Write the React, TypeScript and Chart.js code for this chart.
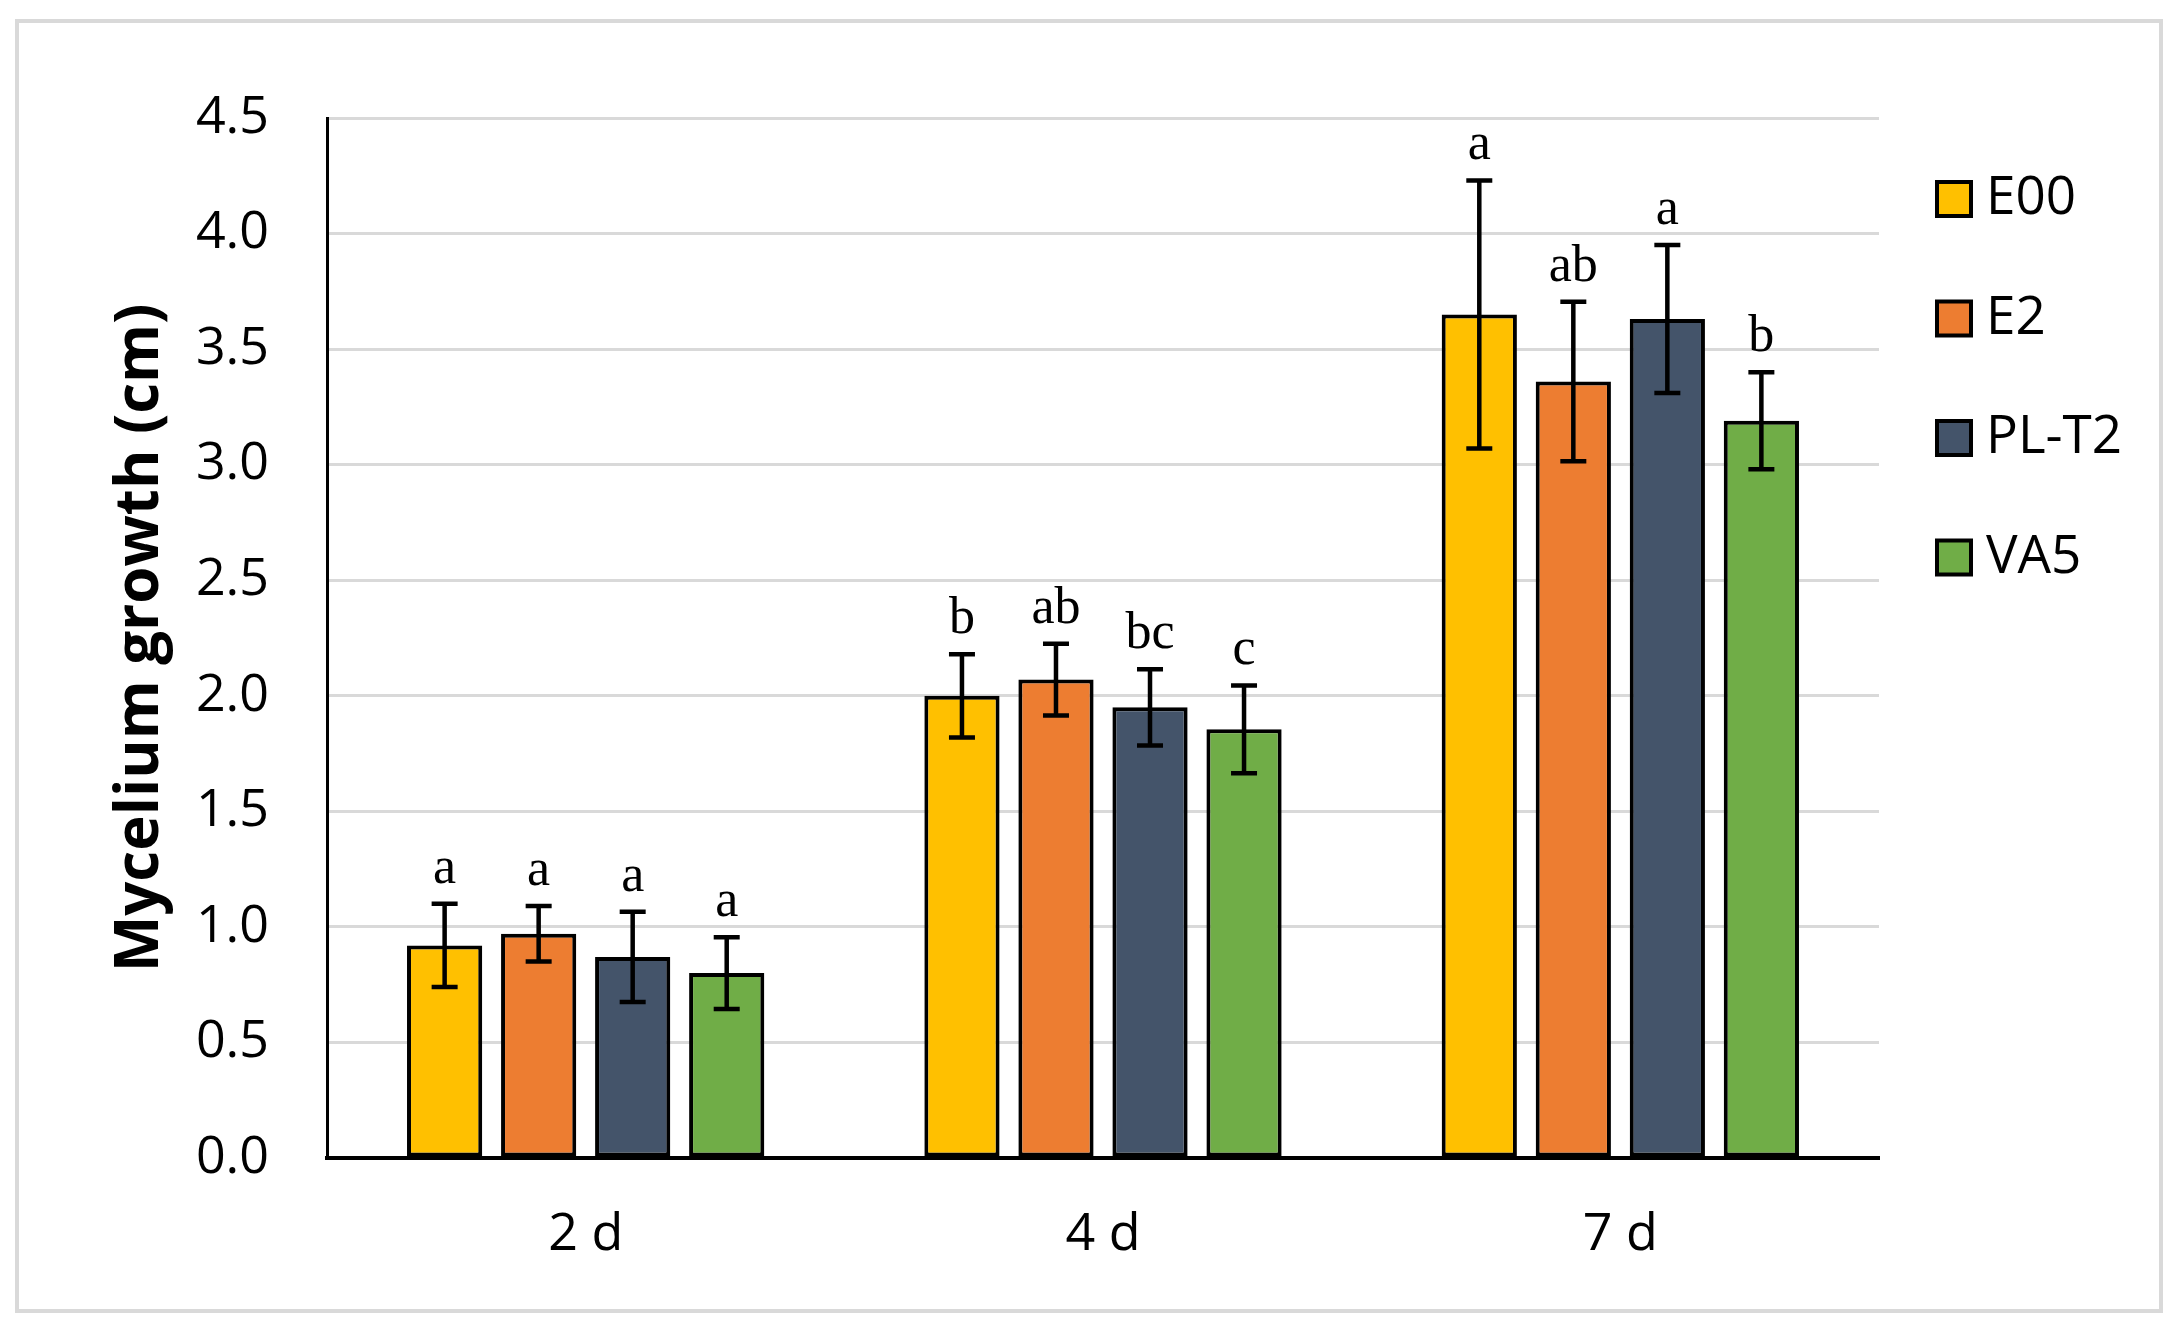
import React, { useEffect, useRef } from 'react';
import { Chart, registerables } from 'chart.js';

Chart.register(...registerables);

const categories = ['2 d', '4 d', '7 d'];
const seriesNames = ['E00', 'E2', 'PL-T2', 'VA5'];

const e00Values = [0.92, 2.0, 3.65];
const e2Values = [0.97, 2.07, 3.36];
const plt2Values = [0.87, 1.95, 3.63];
const va5Values = [0.8, 1.855, 3.19];

const e00Err = [0.18, 0.18, 0.58];
const e2Err = [0.12, 0.155, 0.345];
const plt2Err = [0.195, 0.165, 0.32];
const va5Err = [0.155, 0.19, 0.21];

const e00Letters = ['a', 'b', 'a'];
const e2Letters = ['a', 'ab', 'ab'];
const plt2Letters = ['a', 'bc', 'a'];
const va5Letters = ['a', 'c', 'b'];

const yTicks = [0, 0.5, 1, 1.5, 2, 2.5, 3, 3.5, 4, 4.5];
const yTitle = 'Mycelium growth (cm)';

const seriesColors = ['#FFC000', '#ED7D31', '#44546A', '#70AD47'];

const allValues = [e00Values, e2Values, plt2Values, va5Values];
const allErr = [e00Err, e2Err, plt2Err, va5Err];
const allLetters = [e00Letters, e2Letters, plt2Letters, va5Letters];

const W = 2179;
const H = 1327;
const SANS = "'Open Sans', sans-serif";

const framePlugin = {
  id: 'frame',
  beforeDraw(chart: any) {
    const ctx = chart.ctx;
    ctx.save();
    ctx.fillStyle = '#ffffff';
    ctx.fillRect(0, 0, chart.width, chart.height);
    ctx.strokeStyle = '#d9d9d9';
    ctx.lineWidth = 4;
    ctx.strokeRect(17, 21, 2144, 1290);
    ctx.restore();
  },
};

const errorPlugin = {
  id: 'errorsAndLetters',
  afterDatasetsDraw(chart: any) {
    const ctx = chart.ctx;
    const yScale = chart.scales.y;
    ctx.save();
    chart.data.datasets.forEach((ds: any, i: number) => {
      const meta = chart.getDatasetMeta(i);
      meta.data.forEach((bar: any, j: number) => {
        const v = ds.data[j];
        const e = allErr[i][j];
        const x = bar.x;
        const yt = yScale.getPixelForValue(v + e);
        const yb = yScale.getPixelForValue(v - e);
        ctx.strokeStyle = '#000';
        ctx.lineWidth = 4.5;
        ctx.beginPath();
        ctx.moveTo(x, yt);
        ctx.lineTo(x, yb);
        ctx.moveTo(x - 13, yt);
        ctx.lineTo(x + 13, yt);
        ctx.moveTo(x - 13, yb);
        ctx.lineTo(x + 13, yb);
        ctx.stroke();
        ctx.fillStyle = '#000';
        ctx.font = "52px 'Liberation Serif', serif";
        ctx.textAlign = 'center';
        ctx.textBaseline = 'alphabetic';
        ctx.fillText(allLetters[i][j], x, yt - 21);
      });
    });
    ctx.restore();
  },
};

const legendPlugin = {
  id: 'customLegend',
  afterDraw(chart: any) {
    const ctx = chart.ctx;
    ctx.save();
    const top = chart.chartArea.top;
    chart.data.datasets.forEach((ds: any, i: number) => {
      const cy = top + 81 + i * 119.5;
      ctx.fillStyle = ds.backgroundColor;
      ctx.fillRect(1937, cy - 17, 34, 34);
      ctx.strokeStyle = '#000';
      ctx.lineWidth = 4;
      ctx.strokeRect(1937, cy - 17, 34, 34);
      ctx.fillStyle = '#000';
      ctx.font = `53px ${SANS}`;
      ctx.textAlign = 'left';
      ctx.textBaseline = 'middle';
      ctx.fillText(ds.label, 1986, cy);
    });
    ctx.restore();
  },
};

export default function App() {
  const ref = useRef<HTMLCanvasElement | null>(null);

  useEffect(() => {
    if (!ref.current) return;
    const chart = new Chart(ref.current, {
      type: 'bar',
      data: {
        labels: categories,
        datasets: seriesNames.map((name, i) => ({
          label: name,
          data: allValues[i],
          backgroundColor: seriesColors[i],
          borderColor: '#000000',
          borderWidth: 4,
          borderSkipped: false,
          barPercentage: 0.8,
          categoryPercentage: 0.727,
        })),
      },
      options: {
        responsive: false,
        animation: false,
        devicePixelRatio: 1,
        layout: { padding: { top: 118, right: 300, bottom: 0, left: 0 } },
        plugins: {
          legend: { display: false },
          tooltip: { enabled: false },
        },
        scales: {
          x: {
            grid: { display: false, drawTicks: false },
            border: { display: true, color: '#000', width: 4 },
            ticks: {
              color: '#000',
              font: { family: SANS, size: 52 },
              padding: 46,
            },
            afterFit: (s: any) => {
              s.height = H - 1158;
            },
          },
          y: {
            min: 0,
            max: 4.5,
            afterBuildTicks: (s: any) => {
              s.ticks = yTicks.map((v) => ({ value: v }));
            },
            grid: { color: '#d9d9d9', lineWidth: 3, drawTicks: false },
            border: { display: true, color: '#000', width: 3 },
            ticks: {
              color: '#000',
              font: { family: SANS, size: 52 },
              padding: 58,
              callback: (v: any) => Number(v).toFixed(1),
            },
            title: {
              display: true,
              text: yTitle,
              color: '#000',
              font: { family: SANS, size: 60, weight: 'bold' },
              padding: { top: 105, bottom: 0 },
            },
            afterFit: (s: any) => {
              s.width = 327;
            },
          },
        },
      },
      plugins: [framePlugin, errorPlugin, legendPlugin],
    } as any);
    return () => chart.destroy();
  }, []);

  return (
    <div style={{ position: 'absolute', left: 0, top: 0, width: W, height: H }}>
      <canvas ref={ref} width={W} height={H} style={{ display: 'block' }} />
    </div>
  );
}
